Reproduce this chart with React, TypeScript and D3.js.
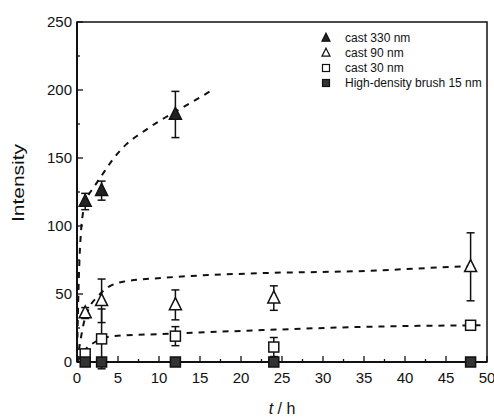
import * as d3 from "d3";
import { useEffect, useRef } from "react";

// measured points (t in h)
const times = [1, 3, 12, 24, 48];
const cast330 = [
  { t: 1, v: 118, e: 6 },
  { t: 3, v: 126, e: 7 },
  { t: 12, v: 182, e: 17 },
];
const cast90 = [
  { t: 1, v: 36, e: 4 },
  { t: 3, v: 45, e: 16 },
  { t: 12, v: 42, e: 11 },
  { t: 24, v: 47, e: 9 },
  { t: 48, v: 70, e: 25 },
];
const cast30 = [
  { t: 1, v: 6, e: 2 },
  { t: 3, v: 17, e: 22 },
  { t: 12, v: 19, e: 7 },
  { t: 24, v: 11, e: 7 },
  { t: 48, v: 27, e: 2 },
];
const brush15 = times.map((t) => ({ t, v: 0, e: 0 }));

// dashed fit curves
const fit330: [number, number][] = [
  [0, 0], [0.15, 45], [0.3, 75], [0.5, 97], [0.8, 112], [1.2, 120], [2, 128], [3, 137],
  [4.5, 150], [6, 160], [8, 169], [10, 177], [12, 184], [14, 191], [16.5, 200],
];
const fit90: [number, number][] = [
  [0, 0], [0.4, 15], [0.8, 28], [1.5, 40], [2.5, 48], [3.8, 55], [5.6, 59], [10.8, 62],
  [20.6, 65], [35.3, 67], [45.9, 70], [48, 70.5],
];
const fit30: [number, number][] = [
  [0, 0], [0.5, 5], [1, 9], [2, 14], [3, 17], [4.4, 19], [10, 20.5], [20.6, 23],
  [36, 26], [49.5, 27],
];

const legendLabels = ["cast 330 nm", "cast 90 nm", "cast 30 nm", "High-density brush 15 nm"];
const xTicks = [0, 5, 10, 15, 20, 25, 30, 35, 40, 45, 50];
const yTicks = [0, 50, 100, 150, 200, 250];

export default function App() {
  const ref = useRef<SVGSVGElement>(null);

  useEffect(() => {
    const svg = d3.select(ref.current);
    svg.selectAll("*").remove();
    const left = 77, right = 487, top = 22, bottom = 362;
    const x = d3.scaleLinear().domain([0, 50]).range([left, right]);
    const y = d3.scaleLinear().domain([0, 250]).range([bottom, top]);
    const ink = "#111";
    const font = "'Liberation Sans', Arial, sans-serif";

    // frame
    svg.append("rect")
      .attr("x", left).attr("y", top)
      .attr("width", right - left).attr("height", bottom - top)
      .attr("fill", "none").attr("stroke", ink).attr("stroke-width", 1.5);
    svg.append("line")
      .attr("x1", left).attr("x2", right).attr("y1", bottom).attr("y2", bottom)
      .attr("stroke", ink).attr("stroke-width", 2.2);
    svg.append("line")
      .attr("x1", left).attr("x2", left).attr("y1", top).attr("y2", bottom)
      .attr("stroke", ink).attr("stroke-width", 2);

    // ticks (inward)
    const g = svg.append("g").attr("stroke", ink).attr("stroke-width", 1.3);
    d3.range(0, 50.01, 2.5).forEach((t, i) => {
      const len = i % 2 === 0 ? 6 : 3;
      g.append("line").attr("x1", x(t)).attr("x2", x(t)).attr("y1", bottom).attr("y2", bottom - len);
    });
    d3.range(0, 250.01, 25).forEach((v, i) => {
      const len = i % 2 === 0 ? 6 : 3;
      g.append("line").attr("x1", left).attr("x2", left + len).attr("y1", y(v)).attr("y2", y(v));
    });

    svg.append("g").selectAll("text").data(xTicks).join("text")
      .attr("x", (d) => x(d)).attr("y", bottom + 21)
      .attr("text-anchor", "middle").attr("font-family", font).attr("font-size", 15)
      .attr("fill", ink).text((d) => d);
    svg.append("g").selectAll("text").data(yTicks).join("text")
      .attr("x", left - 5).attr("y", (d) => y(d) + 5)
      .attr("text-anchor", "end").attr("font-family", font).attr("font-size", 15)
      .attr("fill", ink).text((d) => d);

    svg.append("text")
      .attr("transform", "translate(24,183) rotate(-90)")
      .attr("text-anchor", "middle").attr("font-family", font).attr("font-size", 16)
      .attr("textLength", 78).attr("lengthAdjust", "spacingAndGlyphs")
      .attr("fill", ink).text("Intensity");
    const xl = svg.append("text")
      .attr("x", 282).attr("y", 414).attr("text-anchor", "middle")
      .attr("font-family", font).attr("font-size", 16).attr("fill", ink);
    xl.append("tspan").attr("font-style", "italic").text("t");
    xl.append("tspan").text(" / h");

    // fit curves
    const line = d3.line<[number, number]>()
      .x((d) => x(d[0])).y((d) => y(d[1])).curve(d3.curveMonotoneX);
    [fit330, fit90, fit30].forEach((f) => {
      svg.append("path").attr("d", line(f)!)
        .attr("fill", "none").attr("stroke", ink).attr("stroke-width", 2)
        .attr("stroke-dasharray", "6,6");
    });

    // error bars
    const errG = svg.append("g").attr("stroke", ink).attr("stroke-width", 1.5);
    [cast330, cast90, cast30].forEach((s) => {
      s.forEach((d) => {
        if (d.e <= 0) return;
        const cx = x(d.t);
        errG.append("line").attr("x1", cx).attr("x2", cx).attr("y1", y(d.v - d.e)).attr("y2", y(d.v + d.e));
        [d.v - d.e, d.v + d.e].forEach((v) => {
          errG.append("line").attr("x1", cx - 4).attr("x2", cx + 4).attr("y1", y(v)).attr("y2", y(v));
        });
      });
    });

    const tri = (cx: number, cy: number, s: number) =>
      `M${cx},${cy - s * 0.6}L${cx + s / 2},${cy + s * 0.4}L${cx - s / 2},${cy + s * 0.4}Z`;

    // markers
    const mk = svg.append("g").attr("stroke", ink).attr("stroke-width", 1.5);
    cast330.forEach((d) => mk.append("path").attr("d", tri(x(d.t), y(d.v), 12)).attr("fill", "#222"));
    cast90.forEach((d) => mk.append("path").attr("d", tri(x(d.t), y(d.v), 12)).attr("fill", "#fff"));
    cast30.forEach((d) => mk.append("rect")
      .attr("x", x(d.t) - 5).attr("y", y(d.v) - 5).attr("width", 10).attr("height", 10).attr("fill", "#fff"));
    brush15.forEach((d) => mk.append("rect")
      .attr("x", x(d.t) - 5).attr("y", y(d.v) - 5).attr("width", 10).attr("height", 10).attr("fill", "#333"));

    // legend
    const lg = svg.append("g");
    legendLabels.forEach((lab, i) => {
      const ly = 38 + i * 15;
      const cx = 326;
      if (i < 2) lg.append("path").attr("d", tri(cx, ly, 8)).attr("fill", i === 0 ? "#222" : "#fff")
        .attr("stroke", ink).attr("stroke-width", 1.2);
      else lg.append("rect").attr("x", cx - 3.5).attr("y", ly - 3.5).attr("width", 7).attr("height", 7)
        .attr("fill", i === 3 ? "#333" : "#fff").attr("stroke", ink).attr("stroke-width", 1.2);
      lg.append("text").attr("x", 345).attr("y", ly + 4)
        .attr("font-family", font).attr("font-size", 12).attr("fill", ink).text(lab);
    });
  }, []);

  return (
    <svg ref={ref} width={494} height={419}
      style={{ position: "absolute", left: 0, top: 0, background: "#fff" }} />
  );
}
